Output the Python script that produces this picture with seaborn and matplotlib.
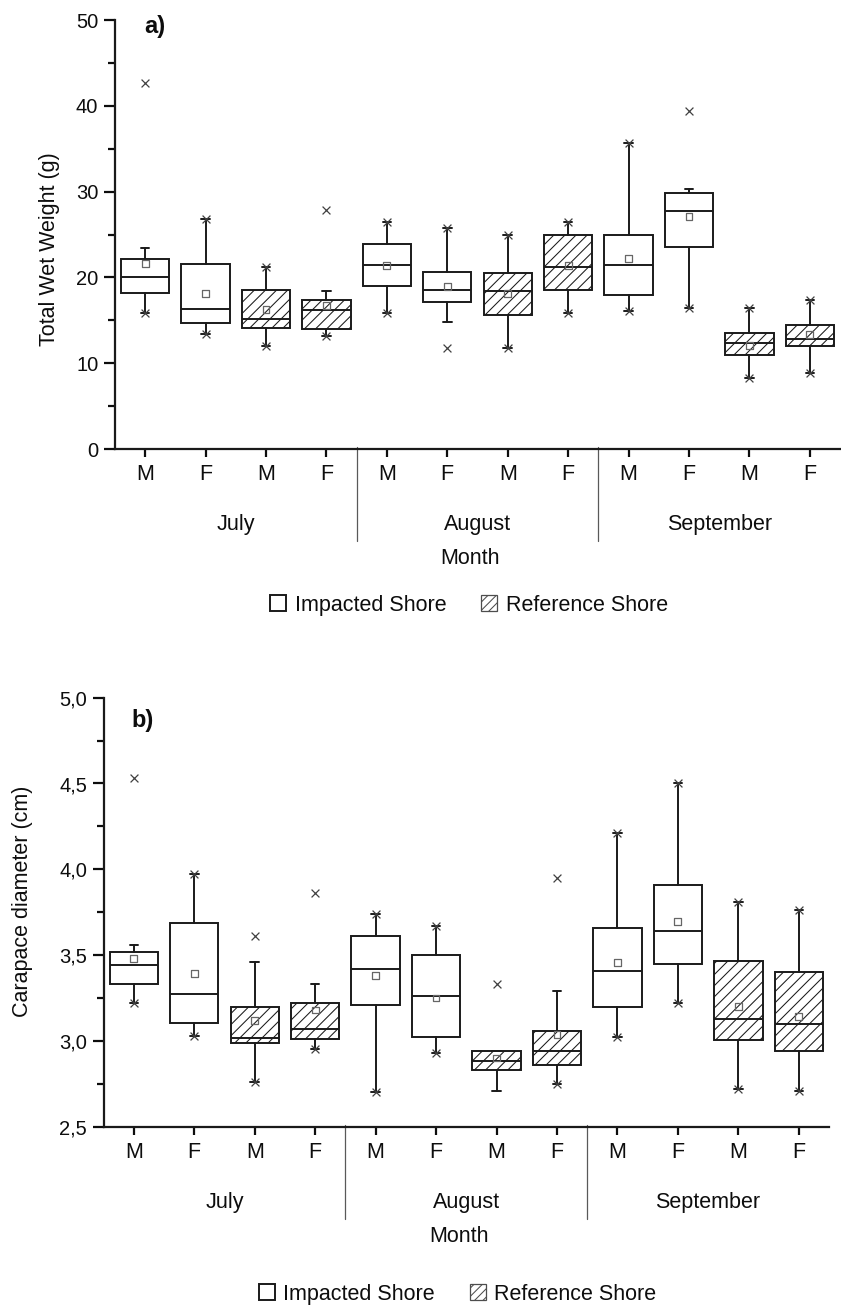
import numpy as np
import pandas as pd
import matplotlib
matplotlib.use("Agg")
import matplotlib.pyplot as plt
import matplotlib.ticker as mticker
import matplotlib.transforms as mtransforms
from matplotlib.patches import Patch
import seaborn as sns


MONTHS = ["July", "August", "September"]
SEX_LABELS = ["M", "F", "M", "F"] * 3
SHORE = ["Impacted", "Impacted", "Reference", "Reference"] * 3

# a) Total wet weight (g), one entry per box (Jul M/F imp, Jul M/F ref, Aug ..., Sep ...)
WT_Q1 = [18.2, 14.65, 14.15, 14.0, 19.0, 17.1, 15.65, 18.5, 17.9, 23.5, 11.0, 11.95]
WT_MED = [20.0, 16.3, 15.15, 16.2, 21.4, 18.55, 18.4, 21.2, 21.5, 27.7, 12.35, 12.85]
WT_Q3 = [22.2, 21.6, 18.55, 17.4, 23.9, 20.6, 20.5, 25.0, 25.0, 29.8, 13.5, 14.4]
WT_LO = [15.9, 13.45, 12.0, 13.2, 15.8, 14.8, 11.8, 15.8, 16.1, 16.4, 8.25, 8.9]
WT_HI = [23.4, 26.8, 21.25, 18.45, 26.5, 25.8, 25.0, 26.5, 35.7, 30.3, 16.4, 17.4]
WT_MEAN = [21.6, 18.1, 16.3, 16.7, 21.4, 18.9, 18.1, 21.4, 22.2, 27.1, 12.1, 13.3]
WT_MIN = [15.9, 13.45, 12.0, 13.2, 15.8, 11.8, 11.8, 15.8, 16.1, 16.4, 8.25, 8.9]
WT_MAX = [42.7, 26.8, 21.25, 27.8, 26.5, 25.8, 25.0, 26.5, 35.7, 39.4, 16.4, 17.4]

# b) Carapace diameter (cm)
CD_Q1 = [3.33, 3.105, 2.99, 3.01, 3.21, 3.02, 2.83, 2.86, 3.20, 3.45, 3.005, 2.94]
CD_MED = [3.44, 3.275, 3.015, 3.07, 3.42, 3.26, 2.88, 2.94, 3.41, 3.64, 3.125, 3.10]
CD_Q3 = [3.52, 3.685, 3.20, 3.22, 3.61, 3.50, 2.94, 3.06, 3.66, 3.91, 3.465, 3.40]
CD_LO = [3.22, 3.03, 2.76, 2.95, 2.70, 2.93, 2.71, 2.75, 3.02, 3.22, 2.72, 2.71]
CD_HI = [3.56, 3.97, 3.46, 3.33, 3.74, 3.67, 2.94, 3.29, 4.21, 4.50, 3.81, 3.76]
CD_MEAN = [3.48, 3.395, 3.12, 3.18, 3.38, 3.25, 2.90, 3.035, 3.455, 3.695, 3.20, 3.14]
CD_MIN = [3.22, 3.03, 2.76, 2.95, 2.70, 2.93, np.nan, 2.75, 3.02, 3.22, 2.72, 2.71]
CD_MAX = [4.53, 3.97, 3.61, 3.86, 3.74, 3.67, 3.33, 3.95, 4.21, 4.50, 3.81, 3.76]

HATCH = "///"
FONT = ["Liberation Sans", "DejaVu Sans"]

sns.set_style("ticks")
plt.rcParams.update({
    "font.family": FONT,
    "text.color": "0.05",
    "axes.labelcolor": "0.05",
    "axes.linewidth": 1.6,
    "axes.edgecolor": "0.1",
    "xtick.major.width": 1.6,
    "ytick.major.width": 1.6,
    "ytick.minor.width": 1.6,
    "xtick.color": "0.05",
    "ytick.color": "0.05",
    "xtick.direction": "out",
    "ytick.direction": "out",
    "hatch.color": "0.25",
    "hatch.linewidth": 0.75,
})


def draw_panel(ax, q1, med, q3, lo, hi, mean, vmin, vmax):
    pos = np.arange(len(q1))
    stats = [dict(q1=a, med=b, q3=c, whislo=d, whishi=e, fliers=[])
             for a, b, c, d, e in zip(q1, med, q3, lo, hi)]
    line = dict(color="0.1", linewidth=1.4)
    bp = ax.bxp(stats, positions=pos, widths=0.8, patch_artist=True,
                showfliers=False, capwidths=0.14,
                boxprops=dict(facecolor="white", edgecolor="0.1", linewidth=1.4),
                whiskerprops=line, capprops=line, medianprops=line)
    for box, shore in zip(bp["boxes"], SHORE):
        if shore == "Reference":
            box.set_hatch(HATCH)

    # mean (open square) and min/max (x) markers
    means = pd.DataFrame({"pos": pos, "val": mean})
    sns.scatterplot(data=means, x="pos", y="val", ax=ax, marker="s", s=24,
                    facecolor="none", edgecolor="0.4", linewidth=0.9,
                    zorder=6, legend=False)
    ext = pd.DataFrame({"pos": np.r_[pos, pos], "val": list(vmin) + list(vmax)}).dropna()
    sns.scatterplot(data=ext, x="pos", y="val", ax=ax, marker="x", s=32,
                    color="0.25", linewidth=0.9, zorder=6, legend=False)

    ax.set_xlim(-0.5, 11.5)
    ax.set_xticks(pos)
    ax.set_xticklabels(SEX_LABELS, fontsize=15.5)
    ax.tick_params(axis="x", length=6, pad=5)
    ax.tick_params(axis="y", which="major", length=8, labelsize=14.5, pad=4)
    ax.tick_params(axis="y", which="minor", length=5)
    ax.set_xlabel("")
    sns.despine(ax=ax)

    # month separators and month names under the M/F labels
    trans = mtransforms.blended_transform_factory(ax.transData, ax.transAxes)
    for xs in (3.5, 7.5):
        ax.plot([xs, xs], [0.005, -0.214], transform=trans, color="0.35",
                linewidth=0.9, clip_on=False)
    for i, m in enumerate(MONTHS):
        ax.text(4 * i + 1.5, -0.177, m, transform=trans, ha="center",
                va="center", fontsize=15.5)
    ax.text(0.49, -0.255, "Month", transform=ax.transAxes, ha="center",
            va="center", fontsize=15.5)


fig = plt.figure(figsize=(8.41, 13.07), dpi=100)
ax1 = fig.add_axes([115 / 841, 1 - 449 / 1307, 725 / 841, 429 / 1307])
ax2 = fig.add_axes([103.6 / 841, 1 - 1126.7 / 1307, 725.4 / 841, 429 / 1307])

draw_panel(ax1, WT_Q1, WT_MED, WT_Q3, WT_LO, WT_HI, WT_MEAN, WT_MIN, WT_MAX)
ax1.set_ylim(0, 50)
ax1.yaxis.set_major_locator(mticker.MultipleLocator(10))
ax1.yaxis.set_minor_locator(mticker.MultipleLocator(5))
ax1.set_ylabel("Total Wet Weight (g)", fontsize=15.5)
ax1.yaxis.set_label_coords(-0.076, 0.467)
ax1.text(0.041, 0.984, "a)", transform=ax1.transAxes, fontsize=17,
         fontweight="bold", va="center", ha="left")

draw_panel(ax2, CD_Q1, CD_MED, CD_Q3, CD_LO, CD_HI, CD_MEAN, CD_MIN, CD_MAX)
ax2.set_ylim(2.5, 5.0)
ax2.yaxis.set_major_locator(mticker.MultipleLocator(0.5))
ax2.yaxis.set_minor_locator(mticker.MultipleLocator(0.25))
ax2.yaxis.set_major_formatter(
    mticker.FuncFormatter(lambda v, _: f"{v:.1f}".replace(".", ",")))
ax2.set_ylabel("Carapace diameter (cm)", fontsize=15.5)
ax2.yaxis.set_label_coords(-0.097, 0.526)
ax2.text(0.039, 0.948, "b)", transform=ax2.transAxes, fontsize=17,
         fontweight="bold", va="center", ha="left")

handles = [Patch(facecolor="white", edgecolor="0.1", linewidth=1.4, label="Impacted Shore"),
           Patch(facecolor="white", edgecolor="0.3", hatch="////", linewidth=0.9,
                 label="Reference Shore")]
for ax, ly in ((ax1, -0.364), (ax2, -0.39)):
    ax.legend(handles=handles, loc="center", bbox_to_anchor=(0.488, ly),
              ncol=2, frameon=False, fontsize=15.5, handlelength=0.75,
              handleheight=0.75, handletextpad=0.4, columnspacing=1.6)

fig.savefig("out.png", dpi=100)
